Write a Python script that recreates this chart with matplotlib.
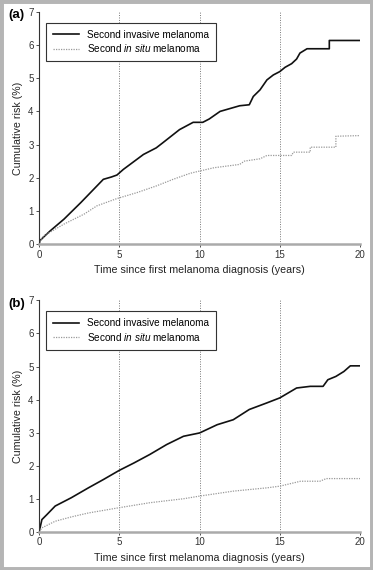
import matplotlib
matplotlib.use("Agg")
from matplotlib import pyplot as plt
from matplotlib.patches import Rectangle

plt.rcParams['font.family'] = ['Liberation Sans', 'DejaVu Sans']
plt.rcParams['mathtext.fontset'] = 'custom'
plt.rcParams['mathtext.rm'] = 'Liberation Sans'
plt.rcParams['mathtext.it'] = 'Liberation Sans:italic'

# panel (a)
a_inv_t = [0, 0.05, 0.3, 0.7, 1.55, 2.6, 3.2, 4.0, 4.5, 4.85, 5.25, 6.5, 7.3, 7.7, 8.75, 9.6, 10.2,
           10.6, 11.28, 12.5, 13.1, 13.35, 13.77, 14.2, 14.6, 15.0, 15.33, 15.74, 16.05, 16.26,
           16.7, 18.09, 18.09, 20.0]
a_inv_y = [0, 0.1, 0.22, 0.4, 0.75, 1.25, 1.55, 1.95, 2.02, 2.08, 2.25, 2.7, 2.9, 3.05, 3.45, 3.67, 3.67,
           3.77, 4.0, 4.17, 4.2, 4.45, 4.65, 4.95, 5.1, 5.2, 5.33, 5.44, 5.58, 5.76,
           5.89, 5.89, 6.14, 6.14]
a_situ_t = [0, 0.05, 0.3, 1.55, 2.8, 3.6, 4.85, 6.1, 7.3, 8.35, 9.4, 10.0, 10.9, 11.7, 12.5, 12.8,
            13.77, 14.2, 15.74, 15.85, 16.9, 16.9, 18.5, 18.5, 20.0]
a_situ_y = [0, 0.08, 0.25, 0.6, 0.9, 1.15, 1.37, 1.55, 1.75, 1.95, 2.13, 2.2, 2.3, 2.35, 2.4, 2.5,
            2.57, 2.67, 2.67, 2.77, 2.77, 2.92, 2.92, 3.25, 3.27]

# panel (b)
b_inv_t = [0, 0.17, 0.48, 1.0, 2.0, 3.07, 4.0, 5.0, 5.9, 6.9, 7.95, 9.0, 10.0, 11.1, 12.1, 13.1,
           14.2, 15.0, 16.05, 16.9, 17.7, 18.0, 18.5, 19.0, 19.4, 20.0]
b_inv_y = [0, 0.37, 0.52, 0.78, 1.03, 1.33, 1.58, 1.86, 2.08, 2.34, 2.64, 2.89, 2.99, 3.24, 3.39, 3.7,
           3.9, 4.05, 4.35, 4.4, 4.4, 4.6, 4.7, 4.85, 5.02, 5.02]
b_situ_t = [0, 0.17, 1.0, 2.0, 3.07, 5.0, 6.9, 9.0, 10.0, 12.1, 14.2, 15.0, 16.3, 17.5, 17.9, 20.0]
b_situ_y = [0, 0.12, 0.32, 0.45, 0.57, 0.73, 0.88, 1.0, 1.08, 1.23, 1.33, 1.38, 1.53, 1.53, 1.61, 1.61]

panels = [("(a)", a_inv_t, a_inv_y, a_situ_t, a_situ_y),
          ("(b)", b_inv_t, b_inv_y, b_situ_t, b_situ_y)]

fig = plt.figure(figsize=(3.73, 5.70), dpi=100)
fig.patches.append(Rectangle((0, 0), 1, 1, transform=fig.transFigure, fill=False,
                             edgecolor='#b5b5b5', linewidth=5))

boxes = [[0.105, 0.572, 0.86, 0.407], [0.105, 0.067, 0.86, 0.406]]

for box, (tag, it, iy, st, sy) in zip(boxes, panels):
    ax = fig.add_axes(box)
    ax.plot(it, iy, color='#111111', linewidth=1.2, label='Second invasive melanoma')
    ax.plot(st, sy, color='#999999', linewidth=0.9, linestyle=(0, (1, 1)),
            label='Second $\\mathit{in\\ situ}$ melanoma')
    for x in [5, 10, 15, 20]:
        ax.axvline(x, color='#777777', linewidth=0.7, linestyle=(0, (1, 1.5)), zorder=0)
    ax.set_xlim(0, 20)
    ax.set_ylim(0, 7)
    ax.set_xticks([0, 5, 10, 15, 20])
    ax.set_yticks(range(0, 8))
    ax.spines['top'].set_visible(False)
    ax.spines['right'].set_visible(False)
    ax.spines['bottom'].set_color('#aaaaaa')
    ax.spines['bottom'].set_linewidth(1.8)
    ax.spines['left'].set_color('#333333')
    ax.spines['left'].set_linewidth(0.8)
    ax.tick_params(axis='both', labelsize=7, length=2.5, width=0.6, pad=1.5, colors='#333333')
    ax.set_xlabel('Time since first melanoma diagnosis (years)', fontsize=7.7, labelpad=4, color='#222222')
    ax.set_ylabel('Cumulative risk (%)', fontsize=7.7, labelpad=4, color='#222222')
    leg = ax.legend(loc='upper left', bbox_to_anchor=(0.005, 0.975), fontsize=7.2, fancybox=False,
                    handlelength=2.6, borderpad=0.7, labelspacing=0.25, framealpha=1)
    leg.get_frame().set_edgecolor('#333333')
    leg.get_frame().set_linewidth(0.8)
    fig.text(0.022, box[1] + box[3] - 0.006, tag, fontsize=9.5, fontweight='bold', va='center', ha='left')

fig.savefig('out.png', dpi=100)
